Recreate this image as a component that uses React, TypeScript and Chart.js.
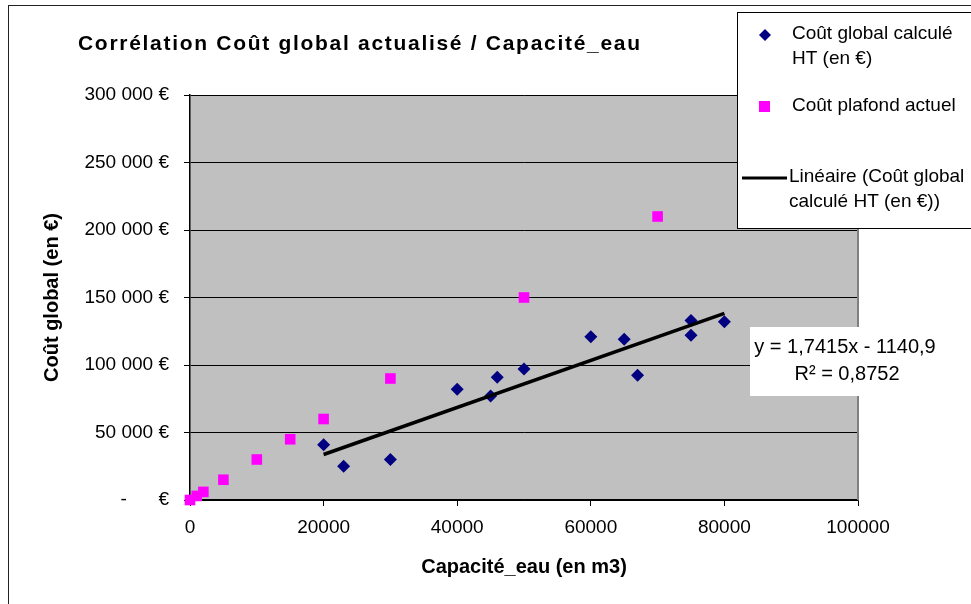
import React, { useEffect, useRef } from "react";
import { Chart, registerables } from "chart.js";

Chart.register(...registerables);

const FONT = "'Liberation Sans', Arial, Helvetica, sans-serif";

// Série 1 : Coût global calculé HT (en €)
const capaciteGlobal = [20000, 23000, 30000, 40000, 45000, 46000, 50000, 60000, 65000, 67000, 75000, 75000, 80000];
const coutGlobal = [41000, 25000, 30000, 82000, 77000, 91000, 97000, 121000, 119000, 92500, 133000, 122000, 132000];

// Série 2 : Coût plafond actuel
const capacitePlafond = [0, 1000, 2000, 5000, 10000, 15000, 20000, 30000, 50000, 70000];
const coutPlafond = [0, 3000, 6000, 15000, 30000, 45000, 60000, 90000, 150000, 210000];

// Courbe de tendance linéaire (y = 1,7415x - 1140,9)
const trendX = [20000, 80000];
const trendY = [33689, 138179];

const chartTitle = "Corrélation Coût global actualisé / Capacité_eau";
const xTitle = "Capacité_eau (en m3)";
const yTitle = "Coût global (en €)";
const legendLabels = [
  ["Coût global calculé", "HT (en €)"],
  ["Coût plafond actuel"],
  ["Linéaire (Coût global", "calculé HT (en €))"],
];
const equationLines = ["y = 1,7415x - 1140,9", "R² = 0,8752"];

const xTicks = [0, 20000, 40000, 60000, 80000, 100000];
const yTicks = [0, 50000, 100000, 150000, 200000, 250000, 300000];

function formatEuro(v: number): string {
  if (v === 0) return "-      €";
  const s = String(v).replace(/\B(?=(\d{3})+(?!\d))/g, " ");
  return s + " €";
}

function drawSpaced(ctx: CanvasRenderingContext2D, text: string, x: number, y: number, totalWidth: number) {
  const chars = Array.from(text);
  const natural = ctx.measureText(text).width;
  const gap = chars.length > 1 ? (totalWidth - natural) / (chars.length - 1) : 0;
  let cx = x;
  for (const ch of chars) {
    ctx.fillText(ch, cx, y);
    cx += ctx.measureText(ch).width + gap;
  }
}

export default function App() {
  const ref = useRef<HTMLCanvasElement>(null);

  useEffect(() => {
    if (!ref.current) return;

    const decor = {
      id: "decor",
      beforeDraw(chart: any) {
        const { ctx, chartArea: a } = chart;
        ctx.save();
        ctx.fillStyle = "#ffffff";
        ctx.fillRect(0, 0, chart.width, chart.height);
        ctx.fillStyle = "#C0C0C0";
        ctx.fillRect(a.left, a.top, a.right - a.left, a.bottom - a.top);
        ctx.restore();
      },
      afterDraw(chart: any) {
        const { ctx, chartArea: a } = chart;
        ctx.save();
        // right border of plot area
        ctx.strokeStyle = "#808080";
        ctx.lineWidth = 2;
        ctx.beginPath();
        ctx.moveTo(a.right, a.top);
        ctx.lineTo(a.right, a.bottom);
        ctx.stroke();

        // outer chart border
        ctx.strokeStyle = "#222";
        ctx.lineWidth = 1;
        ctx.strokeRect(8.5, 5.5, 1000, 700);

        // title
        ctx.fillStyle = "#000";
        ctx.font = `bold 21px ${FONT}`;
        ctx.textBaseline = "middle";
        ctx.textAlign = "left";
        drawSpaced(ctx, chartTitle, 78, 44, 562);

        // legend box
        ctx.fillStyle = "#fff";
        ctx.fillRect(737, 12, 300, 217);
        ctx.strokeStyle = "#000";
        ctx.lineWidth = 1;
        ctx.strokeRect(737.5, 12.5, 300, 216);

        ctx.font = `19px ${FONT}`;
        ctx.fillStyle = "#000";
        ctx.fillText(legendLabels[0][0], 792, 34);
        ctx.fillText(legendLabels[0][1], 792, 59);
        ctx.fillText(legendLabels[1][0], 792, 106);
        ctx.fillText(legendLabels[2][0], 789, 177);
        ctx.fillText(legendLabels[2][1], 789, 202);

        // legend markers
        ctx.fillStyle = "#000080";
        ctx.beginPath();
        ctx.moveTo(765, 29);
        ctx.lineTo(771, 35);
        ctx.lineTo(765, 41);
        ctx.lineTo(759, 35);
        ctx.closePath();
        ctx.fill();
        ctx.fillStyle = "#FF00FF";
        ctx.fillRect(759, 101, 11, 11);
        ctx.strokeStyle = "#000";
        ctx.lineWidth = 3;
        ctx.beginPath();
        ctx.moveTo(742, 178);
        ctx.lineTo(787, 178);
        ctx.stroke();

        // equation box
        ctx.fillStyle = "#fff";
        ctx.fillRect(750, 327, 200, 69);
        ctx.fillStyle = "#000";
        ctx.font = `20px ${FONT}`;
        ctx.textAlign = "center";
        ctx.fillText(equationLines[0], 845, 347);
        ctx.fillText(equationLines[1], 847, 374);
        ctx.restore();
      },
    };

    const chart = new Chart(ref.current, {
      type: "scatter",
      data: {
        datasets: [
          {
            type: "line",
            label: "Linéaire (Coût global calculé HT (en €))",
            data: trendX.map((x, i) => ({ x, y: trendY[i] })),
            borderColor: "#000",
            borderWidth: 3.5,
            pointRadius: 0,
            showLine: true,
            fill: false,
            clip: false as any,
          },
          {
            label: "Coût global calculé HT (en €)",
            data: capaciteGlobal.map((x, i) => ({ x, y: coutGlobal[i] })),
            pointStyle: "rectRot",
            pointRadius: 6.5,
            backgroundColor: "#000080",
            borderColor: "#000080",
            borderWidth: 0,
            clip: false as any,
          },
          {
            label: "Coût plafond actuel",
            data: capacitePlafond.map((x, i) => ({ x, y: coutPlafond[i] })),
            pointStyle: "rect",
            pointRadius: 7.5,
            backgroundColor: "#FF00FF",
            borderColor: "#FF00FF",
            borderWidth: 0,
            clip: false as any,
          },
        ],
      },
      options: {
        animation: false,
        responsive: false,
        events: [],
        layout: { padding: { left: 0, top: 95, right: 113, bottom: 0 } },
        plugins: {
          legend: { display: false },
          tooltip: { enabled: false },
          title: { display: false },
        },
        scales: {
          x: {
            type: "linear",
            min: 0,
            max: 100000,
            afterFit: (s: any) => {
              s.height = 104;
            },
            afterBuildTicks: (s: any) => {
              s.ticks = xTicks.map((v) => ({ value: v }));
            },
            ticks: {
              color: "#000",
              font: { family: FONT, size: 19 },
              padding: 10,
              maxRotation: 0,
              callback: (v: any) => String(v),
            },
            grid: { drawOnChartArea: false, drawTicks: true, tickLength: 6, color: "#000", lineWidth: 1 },
            border: { color: "#000", width: 1.5 },
            title: {
              display: true,
              text: xTitle,
              color: "#000",
              font: { family: FONT, size: 20, weight: "bold" },
              padding: { top: 0, bottom: 25 },
            },
          },
          y: {
            type: "linear",
            min: 0,
            max: 300000,
            afterFit: (s: any) => {
              s.width = 190;
            },
            afterBuildTicks: (s: any) => {
              s.ticks = yTicks.map((v) => ({ value: v }));
            },
            ticks: {
              color: "#000",
              font: { family: FONT, size: 19 },
              padding: 15,
              callback: (v: any) => formatEuro(Number(v)),
            },
            grid: { drawOnChartArea: true, drawTicks: true, tickLength: 6, color: "#000", lineWidth: 1 },
            border: { color: "#000", width: 1.5 },
            title: {
              display: true,
              text: yTitle,
              color: "#000",
              font: { family: FONT, size: 20, weight: "bold" },
              padding: { top: 40, bottom: 0 },
            },
          },
        },
      },
      plugins: [decor],
    } as any);

    return () => chart.destroy();
  }, []);

  return (
    <div style={{ position: "absolute", left: 0, top: 0, width: 971, height: 604, background: "#fff" }}>
      <canvas ref={ref} width={971} height={604} style={{ display: "block", width: 971, height: 604 }} />
    </div>
  );
}
